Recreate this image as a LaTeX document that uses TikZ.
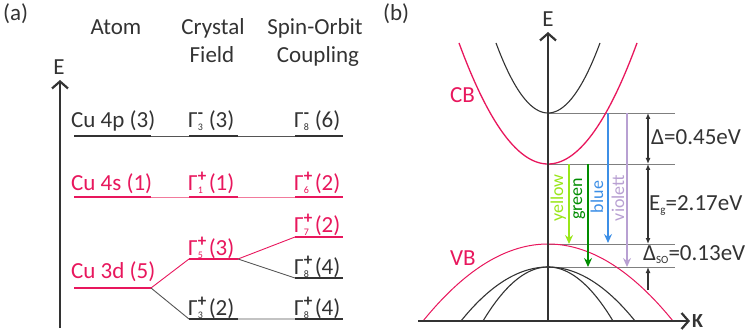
\documentclass[tikz,border=0pt]{standalone}
\usepackage{fontspec}
\setmainfont{Carlito}
\usetikzlibrary{arrows.meta}
\definecolor{cred}{HTML}{E8175D}
\definecolor{cpink}{HTML}{F27A9C}
\definecolor{cdark}{HTML}{333333}
\definecolor{cgray}{HTML}{555555}
\definecolor{cline}{HTML}{7F7F7F}
\definecolor{cyel}{HTML}{99E619}
\definecolor{cgreen}{HTML}{008C00}
\definecolor{cblue}{HTML}{3D8FE6}
\definecolor{cviol}{HTML}{B8A0D2}
\newcommand{\Gsym}[2]{Γ\makebox[11pt][l]{\rlap{\raisebox{9pt}{\fontsize{17}{17}\selectfont\bfseries #2}}\raisebox{-3pt}{\fontsize{10}{10}\selectfont #1}}}
\begin{document}
\begin{tikzpicture}[x=1pt,y=-1pt,
  txt/.style={inner sep=0pt, anchor=base west, font=\fontsize{23}{27}\selectfont, text=cdark},
  rtxt/.style={txt, text=cred},
  ctr/.style={inner sep=0pt, anchor=base, font=\fontsize{23}{27}\selectfont, text=cdark},
  lvl/.style={line width=2.4pt},
  conn/.style={line width=0.9pt},
  axisline/.style={line width=1.6pt, draw=cdark},
  axarrow/.style={axisline, -{Straight Barb[length=7pt,width=16pt,line width=2.2pt]}},
  gline/.style={line width=0.9pt, draw=cline},
  band/.style={line width=1.1pt},
  colarr/.style={line width=1.5pt, -{Stealth[length=9pt,width=8pt,inset=3pt]}},
  dimarr/.style={line width=1.2pt, draw=cdark, {Latex[length=6pt,width=5pt]}-{Latex[length=6pt,width=5pt]}},
  onearr/.style={line width=1.2pt, draw=cdark, -{Latex[length=6pt,width=5pt]}},
  ctxt/.style={inner sep=0pt, anchor=base, rotate=90, font=\fontsize{18}{20}\selectfont}
]
\useasboundingbox (0,0) rectangle (749,331);

% ---------------- panel (a) ----------------
\node[txt] (la) at (3,21) {(a)};
\node[ctr] (hAtom) at (116,35) {Atom};
\node[ctr] (hCry) at (213,35) {Crystal};
\node[ctr] (hFld) at (212,63) {Field};
\node[ctr] (hSO) at (315,35) {Spin-Orbit};
\node[ctr] (hCpl) at (318,63) {Coupling};
\node[ctr] (Ea) at (59,75) {E};
\coordinate (eaB) at (60,328);
\coordinate (eaT) at (60,80);
\draw[axarrow] (eaB) -- (eaT);

% level coordinates
\foreach \n/\y in {p/136,s/197} {
  \coordinate (\n L1) at (74,\y); \coordinate (\n L2) at (151,\y);
  \coordinate (\n M1) at (189,\y); \coordinate (\n M2) at (238,\y);
  \coordinate (\n R1) at (295,\y); \coordinate (\n R2) at (343,\y);
}
\coordinate (dL1) at (74,288); \coordinate (dL2) at (151,288);
\coordinate (g5a) at (189,259); \coordinate (g5b) at (238,259);
\coordinate (g3a) at (189,319); \coordinate (g3b) at (238,319);
\coordinate (g7a) at (295,237); \coordinate (g7b) at (343,237);
\coordinate (g8a) at (295,278); \coordinate (g8b) at (343,278);
\coordinate (g8c) at (295,319); \coordinate (g8d) at (343,319);

% Cu 4p
\draw[conn, cgray] (pL1) -- (pR2);
\draw[lvl, cdark] (pL1) -- (pL2) (pM1) -- (pM2) (pR1) -- (pR2);
% Cu 4s
\draw[conn, cpink] (sL1) -- (sR2);
\draw[lvl, cred] (sL1) -- (sL2) (sM1) -- (sM2) (sR1) -- (sR2);
% Cu 3d splitting
\draw[conn, cred] (dL2) -- (g5a) (g5b) -- (g7a);
\draw[conn, cgray] (dL2) -- (g3a) (g5b) -- (g8a) (g3b) -- (g8c);
\draw[lvl, cred] (dL1) -- (dL2) (g5a) -- (g5b) (g7a) -- (g7b);
\draw[lvl, cdark] (g3a) -- (g3b) (g8a) -- (g8b) (g8c) -- (g8d);

% labels
\node[txt] (t4p) at (71,128) {Cu 4p (3)};
\node[txt] (tG3m) at (188,128) {\Gsym{3}{-}(3)};
\node[txt] (tG8m) at (294,128) {\Gsym{8}{-}(6)};
\node[rtxt] (t4s) at (71,190) {Cu 4s (1)};
\node[rtxt] (tG1) at (188,190) {\Gsym{1}{+}(1)};
\node[rtxt] (tG6) at (294,190) {\Gsym{6}{+}(2)};
\node[rtxt] (t3d) at (71,278) {Cu 3d (5)};
\node[rtxt] (tG5) at (188,255) {\Gsym{5}{+}(3)};
\node[rtxt] (tG7) at (294,232) {\Gsym{7}{+}(2)};
\node[txt] (tG8a) at (294,274) {\Gsym{8}{+}(4)};
\node[txt] (tG3) at (188,315) {\Gsym{3}{+}(2)};
\node[txt] (tG8b) at (294,315) {\Gsym{8}{+}(4)};

% ---------------- panel (b) ----------------
\node[txt] (lb) at (383,21) {(b)};
\node[ctr] (Eb) at (548,27) {E};
\node[inner sep=0pt, anchor=base west, text=cdark, font=\fontsize{20}{22}\selectfont] (Kb) at (692,327) {\bfseries K};

% horizontal reference lines
\coordinate (h1a) at (548,113); \coordinate (h1b) at (675,113);
\coordinate (h2a) at (548,164); \coordinate (h2b) at (675,164);
\coordinate (h3a) at (548,244); \coordinate (h3b) at (675,244);
\coordinate (h4a) at (548,267); \coordinate (h4b) at (675,267);
\draw[gline] (h1a) -- (h1b) (h2a) -- (h2b) (h3a) -- (h3b) (h4a) -- (h4b);

% bands
\draw[band, cdark] plot[domain=496:600, samples=60] (\x, {113 - 2.59*((\x-548)/10)^2});
\draw[band, cred, line width=1.3pt] plot[domain=459:637, samples=80] (\x, {164 - 1.528*((\x-548)/10)^2});
\draw[band, cred, line width=1.0pt] plot[domain=423:673, samples=80] (\x, {244 + 0.493*((\x-548)/10)^2});
\draw[band, cdark] plot[domain=461:635, samples=80] (\x, {267 + 0.713*((\x-548)/10)^2});
\draw[band, cdark] plot[domain=483:613, samples=80] (\x, {267 + 1.278*((\x-548)/10)^2});

% axes
\coordinate (kL) at (418,321); \coordinate (kR) at (690,321);
\coordinate (ebB) at (548,321); \coordinate (ebT) at (548,32);
\draw[axarrow] (kL) -- (kR);
\draw[axarrow] (ebB) -- (ebT);

% transitions
\coordinate (yA) at (569,164); \coordinate (yB) at (569,244);
\coordinate (gA) at (588,164); \coordinate (gB) at (588,267);
\coordinate (bA) at (608,113); \coordinate (bB) at (608,243);
\coordinate (vA) at (627,113); \coordinate (vB) at (627,267);
\draw[colarr, cyel] (yA) -- (yB);
\draw[colarr, cgreen] (gA) -- (gB);
\draw[colarr, cblue] (bA) -- (bB);
\draw[colarr, cviol] (vA) -- (vB);
\node[ctxt, text=cyel] (tyel) at (563,198) {yellow};
\node[ctxt, text=cgreen] (tgrn) at (582,199) {green};
\node[ctxt, text=cblue] (tblu) at (603,197) {blue};
\node[ctxt, text=cviol] (tvio) at (624,198) {violett};

% energy gaps
\coordinate (d1) at (648,113); \coordinate (d2) at (648,164);
\coordinate (d3) at (648,244); \coordinate (d4) at (648,290); \coordinate (d5) at (648,267);
\draw[dimarr] (d1) -- (d2);
\draw[dimarr] (d2) -- (d3);
\draw[onearr] (d4) -- (d5);
\node[txt] (tD) at (651,145) {Δ=0.45eV};
\node[txt] (tEg) at (649,210) {E\raisebox{-3pt}{\fontsize{11}{11}\selectfont g}=2.17eV};
\node[txt] (tDso) at (643,260) {Δ\raisebox{-3pt}{\fontsize{11}{11}\selectfont SO}=0.13eV};

\node[rtxt] (tCB) at (450,103) {CB};
\node[rtxt] (tVB) at (450,265) {VB};
\end{tikzpicture}
\end{document}
